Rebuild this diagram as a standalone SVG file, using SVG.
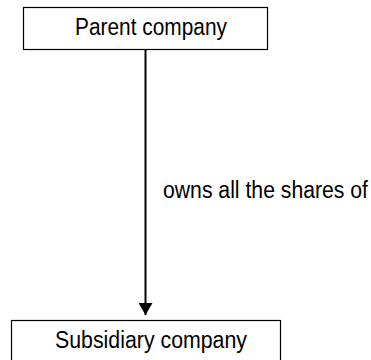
<svg xmlns="http://www.w3.org/2000/svg" width="371" height="360" viewBox="0 0 371 360">
<style>
.box{fill:#fff;stroke:#000;stroke-width:1.2}
.t{font-family:"Liberation Sans",Arial,sans-serif;font-size:23px;fill:#000}
.edge{stroke:#000;stroke-width:2;fill:none}
</style>
<defs>
<marker id="ah" markerWidth="14" markerHeight="14" refX="12" refY="7" orient="auto" markerUnits="userSpaceOnUse">
<path d="M0,0 L12,7 L0,14 Z" fill="#000"/>
</marker>
</defs>
<rect width="371" height="360" fill="#fff"/>
<g id="edges">
<line class="edge" x1="145.5" y1="50" x2="145.5" y2="315" marker-end="url(#ah)"/>
<text class="t" x="163" y="198" textLength="205" lengthAdjust="spacingAndGlyphs">owns all the shares of</text>
</g>
<g id="parent">
<rect class="box" x="23.5" y="7.5" width="244" height="42"/>
<text class="t" x="75" y="35" textLength="152" lengthAdjust="spacingAndGlyphs">Parent company</text>
</g>
<g id="subsidiary">
<rect class="box" x="11.5" y="320.5" width="269" height="42"/>
<text class="t" x="55" y="348" textLength="192" lengthAdjust="spacingAndGlyphs">Subsidiary company</text>
</g>
</svg>
